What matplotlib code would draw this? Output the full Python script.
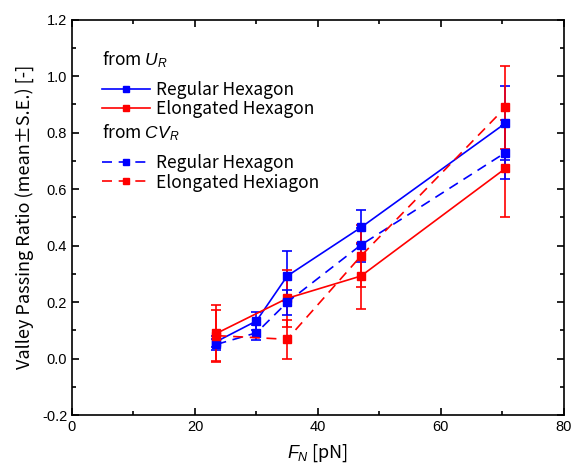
import matplotlib
matplotlib.use('Agg')
import matplotlib.pyplot as plt
from matplotlib.ticker import MultipleLocator
from matplotlib.lines import Line2D

plt.rcParams['font.family'] = ['Noto Sans CJK JP', 'DejaVu Sans']
plt.rcParams['mathtext.fontset'] = 'custom'
plt.rcParams['mathtext.it'] = 'Liberation Sans:italic'
plt.rcParams['mathtext.rm'] = 'Liberation Sans'

# from U_R
fn_reg = [23.5, 30, 35, 47, 70.5]
ur_reg = [0.06, 0.133, 0.292, 0.464, 0.833]
ur_reg_se = [0.02, 0.033, 0.09, 0.06, 0.132]
fn_elo = [23.5, 35, 47, 70.5]
ur_elo = [0.089, 0.213, 0.292, 0.673]
ur_elo_se = [0.10, 0.10, 0.118, 0.173]

# from CV_R
cv_reg = [0.05, 0.091, 0.199, 0.402, 0.729]
cv_reg_se = [0.02, 0.026, 0.045, 0.06, 0.095]
cv_elo = [0.081, 0.068, 0.363, 0.889]
cv_elo_se = [0.09, 0.07, 0.11, 0.147]

fig = plt.figure(figsize=(5.76, 4.7), dpi=100)
ax = fig.add_axes([0.125, 0.117, 0.854, 0.8415])

kw = dict(marker='s', markersize=6, linewidth=1.2, capsize=3.5, elinewidth=1.2, capthick=1.2)
dash = (0, (6, 4))

ax.errorbar(fn_reg, ur_reg, yerr=ur_reg_se, color='#0000ff', linestyle='-', **kw)
ax.errorbar(fn_elo, ur_elo, yerr=ur_elo_se, color='#ff0000', linestyle='-', **kw)
ax.errorbar(fn_reg, cv_reg, yerr=cv_reg_se, color='#0000ff', linestyle=dash, **kw)
ax.errorbar(fn_elo, cv_elo, yerr=cv_elo_se, color='#ff0000', linestyle=dash, **kw)

ax.set_xlim(0, 80)
ax.set_ylim(-0.2, 1.2)
ax.xaxis.set_major_locator(MultipleLocator(20))
ax.xaxis.set_minor_locator(MultipleLocator(10))
ax.yaxis.set_major_locator(MultipleLocator(0.2))
ax.yaxis.set_minor_locator(MultipleLocator(0.1))
ax.yaxis.set_major_formatter(matplotlib.ticker.FormatStrFormatter('%.1f'))
ax.tick_params(which='both', direction='in', top=True, right=True, width=1.2)
ax.tick_params(which='major', length=5, labelsize=10.5)
ax.tick_params(which='minor', length=3)
for lab in ax.get_xticklabels() + ax.get_yticklabels():
    lab.set_fontfamily('Liberation Sans')
for s in ax.spines.values():
    s.set_linewidth(1.2)

ax.set_xlabel('$F_N$ [pN]', fontsize=13, labelpad=6)
ax.set_ylabel('Valley Passing Ratio (mean±S.E.) [-]', fontsize=13, labelpad=6)

def proxy(color, ls):
    return Line2D([], [], color=color, linestyle=ls, linewidth=1.2, marker='s', markersize=5)

lkw = dict(frameon=False, fontsize=12.5, title_fontsize=12.5, alignment='left',
           handlelength=2.75, handletextpad=0.35, labelspacing=0.08, borderaxespad=0,
           borderpad=0)
leg1 = ax.legend([proxy('#0000ff', '-'), proxy('#ff0000', '-')],
                 ['Regular Hexagon', 'Elongated Hexagon'],
                 title='from $U_R$', loc='upper left', bbox_to_anchor=(0.062, 0.925), **lkw)
leg1._legend_box.sep = 8
ax.add_artist(leg1)
leg2 = ax.legend([proxy('#0000ff', dash), proxy('#ff0000', dash)],
                 ['Regular Hexagon', 'Elongated Hexiagon'],
                 title='from $CV_R$', loc='upper left', bbox_to_anchor=(0.062, 0.74), **lkw)
leg2._legend_box.sep = 8

fig.savefig('out.png', dpi=100)
